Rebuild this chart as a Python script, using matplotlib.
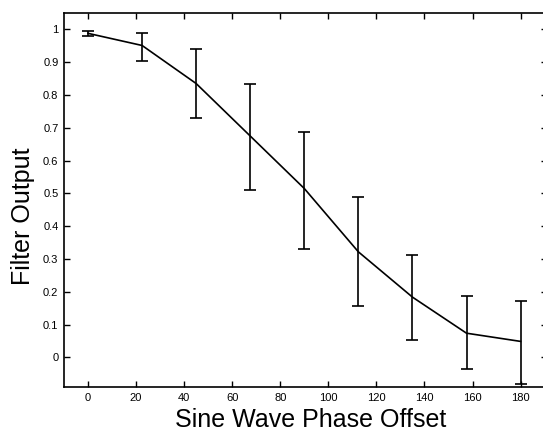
import matplotlib
matplotlib.use("Agg")
from matplotlib import pyplot as plt

plt.rcParams['font.family'] = ['Liberation Sans', 'DejaVu Sans']

phase = [0, 22.5, 45, 67.5, 90, 112.5, 135, 157.5, 180]
output = [0.988, 0.951, 0.835, 0.675, 0.515, 0.322, 0.184, 0.074, 0.049]
err_top = [0.995, 0.990, 0.941, 0.833, 0.688, 0.488, 0.312, 0.186, 0.173]
err_bottom = [0.979, 0.904, 0.731, 0.509, 0.330, 0.157, 0.054, -0.035, -0.081]
x_ticks = [0, 20, 40, 60, 80, 100, 120, 140, 160, 180]
y_ticks = [0, 0.1, 0.2, 0.3, 0.4, 0.5, 0.6, 0.7, 0.8, 0.9, 1]

lower = [o - b for o, b in zip(output, err_bottom)]
upper = [t - o for o, t in zip(output, err_top)]

fig = plt.figure(figsize=(5.43, 4.32), dpi=100)
ax = fig.add_axes([64 / 543, 1 - 387 / 432, (547 - 64) / 543, (387 - 13) / 432])

ax.errorbar(phase, output, yerr=[lower, upper], color="black", linewidth=1.2,
            elinewidth=1.2, capsize=4, capthick=1.2)

ax.set_xlim(-10, 191)
ax.set_ylim(-0.09, 1.05)
ax.set_xticks(x_ticks)
ax.set_yticks(y_ticks)
ax.set_yticklabels(["0", "0.1", "0.2", "0.3", "0.4", "0.5", "0.6", "0.7", "0.8", "0.9", "1"])
ax.tick_params(direction="in", length=4, width=1, labelsize=8,
               top=True, right=True, pad=4)
for s in ax.spines.values():
    s.set_linewidth(1.2)

ax.set_xlabel("Sine Wave Phase Offset", fontsize=18)
ax.set_ylabel("Filter Output", fontsize=18)
ax.xaxis.set_label_coords(0.51, -0.055)
ax.yaxis.set_label_coords(-0.06, 0.457)

fig.savefig("out.png", dpi=100)
